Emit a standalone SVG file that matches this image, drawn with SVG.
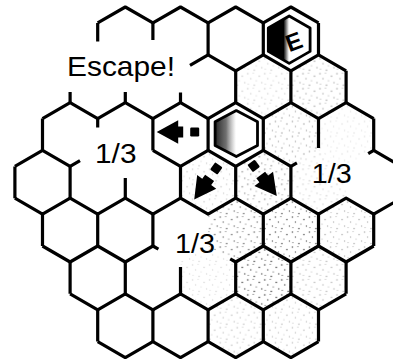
<svg xmlns="http://www.w3.org/2000/svg" width="393" height="359" viewBox="0 0 393 359">
<style>
.g{fill:none;stroke:#000;stroke-width:3.2;stroke-linejoin:round;stroke-linecap:butt}
.in{fill:none;stroke:#000;stroke-width:2.8;stroke-linejoin:round}
.t{font-family:"Liberation Sans",Arial,Helvetica,sans-serif;font-size:28px;fill:#000}
.sp{fill:url(#st)}
</style>
<defs>
<pattern id="st" width="17" height="15" patternUnits="userSpaceOnUse">
<circle cx="1.5" cy="2" r=".8"/><circle cx="7" cy="1.5" r=".6"/><circle cx="13" cy="4.5" r=".8"/><circle cx="4.5" cy="7" r=".7"/><circle cx="10" cy="9" r=".6"/><circle cx="15.5" cy="11" r=".7"/><circle cx="2" cy="12.5" r=".6"/><circle cx="8" cy="13.5" r=".8"/>
</pattern>
<polygon id="hx" points="0,-31.9 27.6,-15.95 27.6,15.95 0,31.9 -27.6,15.95 -27.6,-15.95"/>
<g id="arr" fill="#000">
<rect x="36.5" y="-4.5" width="9" height="9" rx="1.2"/>
<polygon points="52.5,-5.5 57.5,-5.5 57.5,-11.7 79,0 57.5,11.7 57.5,5.5 52.5,5.5"/>
</g>
<linearGradient id="sh" x1="0" x2="1" y1="0" y2="0">
<stop offset="0" stop-color="#111" stop-opacity=".95"/>
<stop offset=".55" stop-color="#333" stop-opacity=".7"/>
<stop offset="1" stop-color="#666" stop-opacity="0"/>
</linearGradient>
<linearGradient id="eb" x1="0" x2="1" y1="0" y2="0">
<stop offset="0" stop-color="#000"/>
<stop offset=".75" stop-color="#000"/>
<stop offset="1" stop-color="#000" stop-opacity="0"/>
</linearGradient>
<clipPath id="cs"><polygon points="236.3,110.6 257.5,121.8 257.5,145.4 236.3,156.6 215.1,145.4 215.1,121.8"/></clipPath>
<clipPath id="ce"><polygon points="289.2,16 310.1,28 310.1,51.4 289.2,63.4 268.3,51.4 268.3,28"/></clipPath>
</defs>

<g id="stipple">
<use href="#hx" x="263.3" y="86.7" class="sp" opacity=".2"/>
<use href="#hx" x="318.5" y="86.7" class="sp" opacity=".35"/>
<use href="#hx" x="290.9" y="134.5" class="sp" opacity=".35"/>
<use href="#hx" x="346.1" y="134.5" class="sp" opacity=".12"/>
<use href="#hx" x="208.1" y="182.3" class="sp" opacity=".2"/>
<use href="#hx" x="263.3" y="182.3" class="sp" opacity=".45"/>
<use href="#hx" x="318.5" y="182.3" class="sp" opacity=".2"/>
<use href="#hx" x="235.7" y="230.1" class="sp" opacity=".6"/>
<use href="#hx" x="290.9" y="230.1" class="sp" opacity=".65"/>
<use href="#hx" x="346.1" y="230.1" class="sp" opacity=".3"/>
<use href="#hx" x="208.1" y="277.9" class="sp" opacity=".15"/>
<use href="#hx" x="263.3" y="277.9" class="sp" opacity=".75"/>
<use href="#hx" x="318.5" y="277.9" class="sp" opacity=".3"/>
<use href="#hx" x="235.7" y="325.7" class="sp" opacity=".25"/>
<use href="#hx" x="290.9" y="325.7" class="sp" opacity=".25"/>
</g>

<g id="connectors" class="g">
<path d="M97.7,22.9 L125.3,7 L152.9,22.9 L180.5,7 L208.1,22.9 L235.7,7 L263.3,22.9 L290.9,7 L318.5,22.9"/>
<path d="M97.7,22.9 V41.5 M152.9,22.9 V40 M208.1,22.9 V54.8 M263.3,22.9 V54.8 M318.5,22.9 V54.8"/>
<path d="M190,65.3 L208.1,54.8 L235.7,70.8 L263.3,54.8 L290.9,70.8 L318.5,54.8 L346.1,70.8"/>
<path d="M70.1,102.6 V92 M125.3,102.6 V92 M180.5,102.6 V92.5 M235.7,70.8 V102.6 M290.9,70.8 V102.6 M346.1,70.8 V102.6"/>
<path d="M42.5,118.6 L70.1,102.6 L97.7,118.6 L125.3,102.6 L152.9,118.6 L180.5,102.6 L208.1,118.6 L235.7,102.6 L263.3,118.6 L290.9,102.6 L318.5,118.6 L346.1,102.6 L373.7,118.6"/>
<path d="M42.5,118.6 V150.4 M97.7,118.6 V127.5 M152.9,118.6 V150.4 M208.1,118.6 V150.4 M263.3,118.6 V150.4 M318.5,118.6 V148 M373.7,118.6 V150.4"/>
<path d="M14.9,166.4 L42.5,150.4 L70.1,166.4 L80,160.6"/>
<path d="M152.9,150.4 L180.5,166.4 L208.1,150.4 L235.7,166.4 L263.3,150.4 L290.9,166.4 L296.9,162.9"/>
<path d="M368.2,153.6 L373.7,150.4 L401.3,166.4"/>
<path d="M14.9,166.4 V198.2 M70.1,166.4 V198.2 M125.3,178 V198.2 M180.5,166.4 V198.2 M235.7,166.4 V198.2 M290.9,166.4 V198.2"/>
<path d="M14.9,198.2 L42.5,214.2 L70.1,198.2 L97.7,214.2 L125.3,198.2 L152.9,214.2 L180.5,198.2 L208.1,214.2 L235.7,198.2 L263.3,214.2 L290.9,198.2 L318.5,214.2 L346.1,198.2 L373.7,214.2 L401.3,198.2"/>
<path d="M42.5,214.2 V246 M97.7,214.2 V246 M152.9,214.2 V246 M263.3,214.2 V246 M318.5,214.2 V246 M373.7,214.2 V246"/>
<path d="M42.5,246 L70.1,262 L97.7,246 L125.3,262 L152.9,246 L158.4,249.2"/>
<path d="M230.2,258.8 L235.7,262 L263.3,246 L290.9,262 L318.5,246 L346.1,262 L373.7,246"/>
<path d="M70.1,262 V293.8 M125.3,262 V293.8 M180.5,267 V293.8 M235.7,262 V293.8 M290.9,262 V293.8 M346.1,262 V293.8"/>
<path d="M70.1,293.8 L97.7,309.8 L125.3,293.8 L152.9,309.8 L180.5,293.8 L208.1,309.8 L235.7,293.8 L263.3,309.8 L290.9,293.8 L318.5,309.8 L346.1,293.8"/>
<path d="M97.7,309.8 V341.6 M152.9,309.8 V341.6 M208.1,309.8 V341.6 M263.3,309.8 V341.6 M318.5,309.8 V341.6"/>
<path d="M97.7,341.6 L125.3,357.6 L152.9,341.6 L180.5,357.6 L208.1,341.6 L235.7,357.6 L263.3,341.6 L290.9,357.6 L318.5,341.6"/>
</g>

<g id="stone">
<rect x="214" y="110" width="22" height="48" fill="url(#sh)" clip-path="url(#cs)"/>
<polygon class="in" points="236.3,110.6 257.5,121.8 257.5,145.4 236.3,156.6 215.1,145.4 215.1,121.8"/>
</g>

<g id="exit">
<rect x="267" y="15" width="22" height="50" fill="url(#eb)" clip-path="url(#ce)"/>
<polygon class="in" points="289.2,16 310.1,28 310.1,51.4 289.2,63.4 268.3,51.4 268.3,28"/>
<text x="294" y="50" transform="rotate(-20 294 42)" text-anchor="middle" font-family="Liberation Sans,Arial,sans-serif" font-size="24" font-weight="bold" fill="#000">E</text>
</g>

<g id="arrows">
<use href="#arr" transform="translate(235.7,132) rotate(180)"/>
<use href="#arr" transform="translate(240.1,135.1) rotate(125.5)"/>
<use href="#arr" transform="translate(228.9,133.2) rotate(52.7)"/>
</g>

<g id="labels">
<text class="t" x="67" y="76" textLength="108" lengthAdjust="spacingAndGlyphs">Escape!</text>
<text class="t" x="95" y="163.3" textLength="41.5" lengthAdjust="spacingAndGlyphs">1/3</text>
<text class="t" x="175" y="253.3" textLength="40" lengthAdjust="spacingAndGlyphs">1/3</text>
<text class="t" x="311.7" y="183.3" textLength="40" lengthAdjust="spacingAndGlyphs">1/3</text>
</g>
</svg>
